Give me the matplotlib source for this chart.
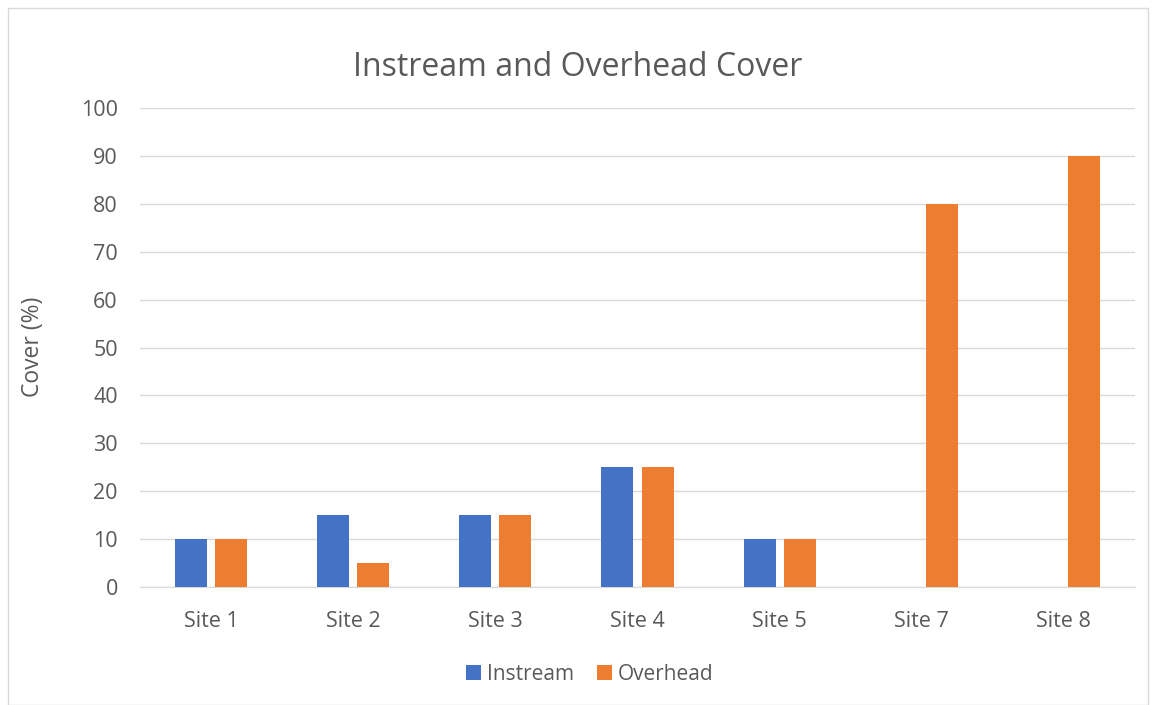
import matplotlib
matplotlib.use("Agg")
import matplotlib.pyplot as plt
import numpy as np
from matplotlib.patches import Rectangle

categories = ["Site 1", "Site 2", "Site 3", "Site 4", "Site 5", "Site 7", "Site 8"]
instream = [10, 15, 15, 25, 10, 0, 0]
overhead = [10, 5, 15, 25, 10, 80, 90]
yticks = [0, 10, 20, 30, 40, 50, 60, 70, 80, 90, 100]

plt.rcParams['font.family'] = ['Open Sans', 'DejaVu Sans']
txt = '#595959'

fig = plt.figure(figsize=(11.56, 7.05), dpi=100)
fig.patches.append(Rectangle((8/1156, 0), (1148-8)/1156, (705-8)/705, transform=fig.transFigure,
                             fill=False, edgecolor='#D9D9D9', linewidth=1))
ax = fig.add_axes([140/1156, 1 - 587/705, (1135-140)/1156, (587-108)/705])

x = np.arange(len(categories))
w = 0.225
off = 0.141
ax.bar(x - off, instream, width=w, color='#4472C4', label='Instream', zorder=3)
ax.bar(x + off, overhead, width=w, color='#ED7D31', label='Overhead', zorder=3)

ax.set_xlim(-0.5, len(categories) - 0.5)
ax.set_ylim(0, 100)
ax.set_yticks(yticks)
ax.set_xticks(x)
ax.set_xticklabels(categories)
ax.yaxis.grid(True, color='#D9D9D9', linewidth=1, zorder=0)
for s in ['top', 'right', 'left']:
    ax.spines[s].set_visible(False)
ax.spines['bottom'].set_color('#D9D9D9')
ax.tick_params(axis='both', length=0, labelsize=15.5, colors=txt)
ax.tick_params(axis='x', pad=17)
ax.tick_params(axis='y', pad=16)

fig.text(33/1156, 1 - 347/705, 'Cover (%)', rotation=90, ha='center', va='center',
         fontsize=16.5, color=txt)
fig.text(578/1156, 1 - 67/705, 'Instream and Overhead Cover', ha='center', va='center',
         fontsize=23, color=txt)

fig.legend(loc='center', bbox_to_anchor=(590/1156, 1 - 674/705), ncol=2, frameon=False,
           fontsize=15, labelcolor=txt, handlelength=0.7, handleheight=0.7,
           handletextpad=0.3, columnspacing=1.1)

fig.savefig('out.png', dpi=100)
